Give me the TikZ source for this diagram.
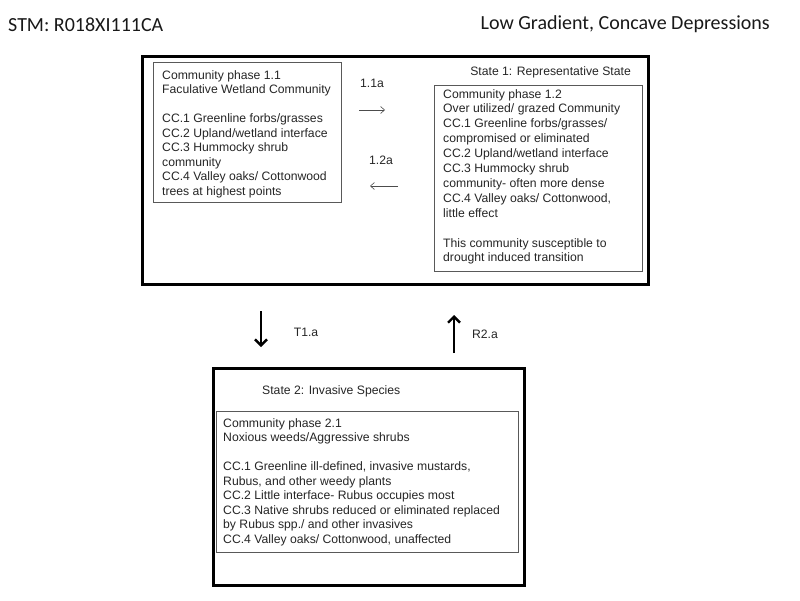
\documentclass[tikz,border=0pt]{standalone}
\usepackage{fontspec}
\setmainfont{Liberation Sans}
\newfontfamily\calib{Carlito}
\usetikzlibrary{arrows.meta}
\begin{document}
\begin{tikzpicture}[x=1pt,y=-1pt,
 outerbox/.style={draw=black,line width=2.5pt,anchor=north west,inner sep=0pt},
 innerbox/.style={draw=black!65,line width=0.8pt,anchor=north west,inner sep=0pt},
 body/.style={anchor=north west,inner sep=0pt,align=left,font=\fontsize{12.2}{14.5}\selectfont,text=black!85},
 bodyw/.style={anchor=north west,inner sep=0pt,align=left,font=\fontsize{12.2}{14.9}\selectfont,text=black!85},
 lbl/.style={inner sep=0pt,font=\fontsize{12.2}{14.5}\selectfont,text=black!85},
 thinarrow/.style={draw=black!70,line width=0.6pt,-{Straight Barb[length=4pt,width=7pt]}},
 thickarrow/.style={draw=black,line width=2.4pt,-{Straight Barb[length=6pt,width=12pt]}},
 title/.style={inner sep=0pt,font=\calib\fontsize{20}{24}\selectfont,text=black!90}]
\useasboundingbox[fill=white] (0,0) rectangle (800,600);

\node[title,anchor=base west] (stm) at (8,31.7) {STM: R018XI111CA};
\node[title,anchor=base east] (lg) at (770,29.5) {Low Gradient, Concave Depressions};

% State 1
\node[outerbox,minimum width=506pt,minimum height=228pt] (state1) at (141,55) {};
\node[innerbox,minimum width=188pt,minimum height=140pt] (cp11) at (153,62) {};
\node[innerbox,minimum width=208pt,minimum height=186pt] (cp12) at (434,85) {};
\node[lbl,anchor=base east] (s1lbl) at (631,75.3) {State 1: Representative State};

\node[body] (t11) at (162,70) {Community phase 1.1\\
Faculative Wetland Community\\[14.5pt]
CC.1 Greenline forbs/grasses\\
CC.2 Upland/wetland interface\\
CC.3 Hummocky shrub\\
community\\
CC.4 Valley oaks/ Cottonwood\\
trees at highest points};

\node[bodyw] (t12) at (443,89) {Community phase 1.2\\
Over utilized/ grazed Community\\
CC.1 Greenline forbs/grasses/\\
compromised or eliminated\\
CC.2 Upland/wetland interface\\
CC.3 Hummocky shrub\\
community- often more dense\\
CC.4 Valley oaks/ Cottonwood,\\
little effect\\[14.9pt]
This community susceptible to\\
drought induced transition};

\node[lbl] (l11) at (372,83) {1.1a};
\node[lbl] (l12) at (381,160) {1.2a};
\coordinate (a11s) at (359,110);
\coordinate (a11e) at (385,110);
\coordinate (a12s) at (398,186);
\coordinate (a12e) at (370,186);
\draw[thinarrow] (a11s) -- (a11e);
\draw[thinarrow] (a12s) -- (a12e);

% transitions
\coordinate (t1s) at (261,311);
\coordinate (t1e) at (261,347);
\coordinate (r2s) at (454,353);
\coordinate (r2e) at (454,315);
\draw[thickarrow] (t1s) -- (t1e);
\draw[thickarrow] (r2s) -- (r2e);
\node[lbl] (lt1) at (306,332) {T1.a};
\node[lbl] (lr2) at (485,334) {R2.a};

% State 2
\node[outerbox,minimum width=311pt,minimum height=217pt] (state2) at (212,367) {};
\node[innerbox,minimum width=302pt,minimum height=141pt] (cp21) at (216,411) {};
\node[lbl,anchor=base west] (s2lbl) at (262,394.3) {State 2: Invasive Species};

\node[body] (t21) at (223,418) {Community phase 2.1\\
Noxious weeds/Aggressive shrubs\\[14.5pt]
CC.1 Greenline ill-defined, invasive mustards,\\
Rubus, and other weedy plants\\
CC.2 Little interface- Rubus occupies most\\
CC.3 Native shrubs reduced or eliminated replaced\\
by Rubus spp./ and other invasives\\
CC.4 Valley oaks/ Cottonwood, unaffected};
\end{tikzpicture}
\end{document}
